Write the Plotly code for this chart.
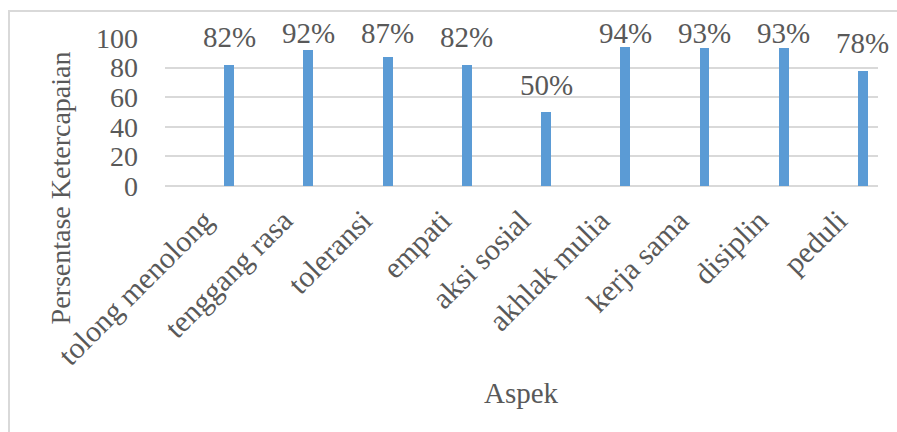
import plotly.graph_objects as go

categories = ["tolong menolong", "tenggang rasa", "toleransi", "empati", "aksi sosial",
              "akhlak mulia", "kerja sama", "disiplin", "peduli"]
values = [82, 92, 87, 82, 50, 94, 93, 93, 78]
labels = ["82%", "92%", "87%", "82%", "50%", "94%", "93%", "93%", "78%"]
y_ticks = [0, 20, 40, 60, 80, 100]

FONT = "Liberation Serif, Times New Roman, serif"
TXT = "#595959"
GRID = "#d9d9d9"
BAR = "#5b9bd5"

bar_w = 0.125
bar_c = 0.31
y_max = 100

fig = go.Figure()
fig.add_trace(go.Bar(
    x=categories, y=values, marker=dict(color=BAR, line=dict(width=0)),
    width=bar_w, offset=bar_c - bar_w / 2, hoverinfo="x+y",
))

annotations = []
for i, (v, t) in enumerate(zip(values, labels)):
    annotations.append(dict(
        x=i + bar_c, y=min(v + 18.5, 103.7) / y_max, xref="x", yref="paper",
        text=t, showarrow=False, xanchor="center", yanchor="middle",
        font=dict(family=FONT, size=29, color=TXT),
    ))

annotations.append(dict(
    x=-0.146, y=-0.01, xref="paper", yref="paper", text="Persentase Ketercapaian",
    textangle=-90, showarrow=False, xanchor="center", yanchor="middle",
    font=dict(family=FONT, size=28, color=TXT),
))
annotations.append(dict(
    x=0.5, y=-1.40, xref="paper", yref="paper", text="Aspek",
    showarrow=False, xanchor="center", yanchor="middle",
    font=dict(family=FONT, size=29, color=TXT),
))

fig.update_layout(
    width=897, height=432,
    margin=dict(l=165, r=19, t=38, b=246),
    paper_bgcolor="white", plot_bgcolor="white",
    showlegend=False,
    bargap=0,
    font=dict(family=FONT, size=28, color=TXT),
    annotations=annotations,
    shapes=[dict(type="rect", xref="paper", yref="paper",
                 x0=-0.2188, x1=1.08, y0=-2.2, y1=1.1824,
                 line=dict(color=GRID, width=2), fillcolor="rgba(0,0,0,0)", layer="below")],
    xaxis=dict(
        type="category", categoryorder="array", categoryarray=categories,
        tickangle=-45, showgrid=False, showline=False, ticks="",
        ticklabelstandoff=10,
        tickfont=dict(family=FONT, size=30, color=TXT),
        range=[-0.5, len(categories) - 0.5],
    ),
    yaxis=dict(
        range=[0, y_max], tickvals=y_ticks, showgrid=True, gridcolor=GRID, gridwidth=2,
        zeroline=True, zerolinecolor=GRID, zerolinewidth=2, showline=False, ticks="",
        ticklabelstandoff=26,
        tickfont=dict(family=FONT, size=28, color=TXT),
    ),
)

fig.write_html("out.html")
